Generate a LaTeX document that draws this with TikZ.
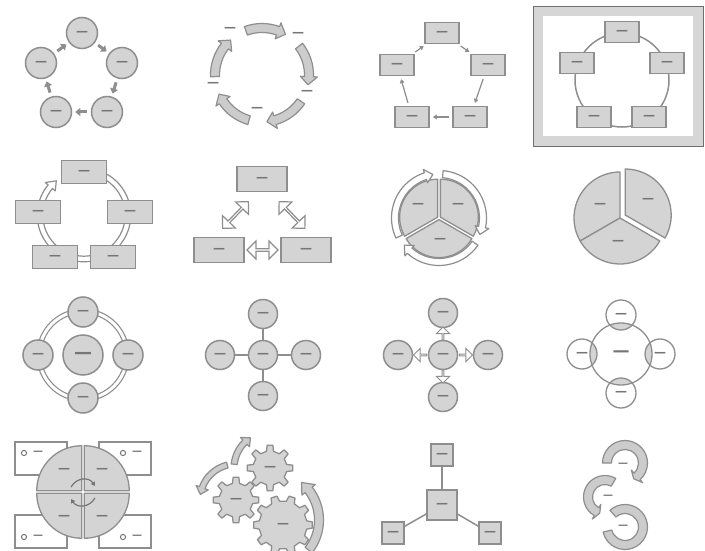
\documentclass[tikz,border=0pt]{standalone}
\usepackage{fontspec}
\newfontfamily\dashfont{DejaVu Sans}
\usetikzlibrary{arrows.meta,shapes.arrows,calc}
\definecolor{IconFill} {RGB}{212,212,212}
\definecolor{IconLine} {RGB}{142,142,142}
\definecolor{IconText} {RGB}{118,118,118}
\definecolor{ArrowFill}{RGB}{204,204,204}
\definecolor{FrameBand}{RGB}{214,214,214}
\definecolor{FrameLine}{RGB}{110,110,110}
% curved block arrow: centre, radius, half width, head half width, from, to, tip angle, style
\newcommand\blockarc[8]{%
  \begin{scope}[shift={#1}]
  \draw[#8] ({#5}:{#2+#3}) arc[start angle={#5}, end angle={#6}, radius={#2+#3}]
    -- ({#6}:{#2+#4}) -- ({#6+(#7)}:{#2}) -- ({#6}:{#2-#4}) -- ({#6}:{#2-#3})
    arc[start angle={#6}, end angle={#5}, radius={#2-#3}] -- cycle;
  \end{scope}}

\begin{document}
\begin{tikzpicture}[x=1pt,y=-1pt,
  ph/.style={font=\dashfont\bfseries\fontsize{12}{12}\selectfont, text=IconText, inner sep=0pt},
  bub/.style={circle, draw=IconLine, fill=IconFill, line width=1.5pt, minimum size=31pt, inner sep=0pt, ph},
  box/.style={rectangle, draw=IconLine, fill=IconFill, line width=1.5pt, minimum width=34pt, minimum height=21pt, inner sep=0pt, ph},
  venn/.style={circle, draw=IconLine, line width=1.3pt, inner sep=0pt, ph},
  card/.style={rectangle, draw=IconLine, fill=white, line width=1.3pt, inner sep=0pt},
  sector/.style={draw=IconLine, fill=IconFill, line width=1.3pt, line join=round},
  cyc/.style={draw=IconLine, fill=ArrowFill, line width=1.2pt, line join=round},
  hollow/.style={draw=IconLine, fill=white, line width=1.2pt, line join=round},
  link/.style={IconLine, line width=1.5pt},
  stub/.style={IconLine, line width=3pt, -{Triangle[length=5pt,width=8pt]}, shorten <=4pt, shorten >=3pt},
  pointer/.style={IconLine, line width=1.2pt, -{Triangle[length=4pt,width=4.5pt]}, shorten <=3pt, shorten >=3pt},
  twin/.style={double arrow, draw=IconLine, fill=white, line width=1.2pt, minimum width=18pt, double arrow head extend=4pt, inner sep=0pt},
  spike/.style={single arrow, draw=IconLine, fill=white, line width=1pt, minimum width=13pt, minimum height=13pt, single arrow head extend=3pt, inner sep=0pt},
  swirl/.style={draw=IconText, line width=1.2pt, -{Triangle[length=4pt,width=4.5pt]}},
]
\fill[white] (0,0) rectangle (705,551);
\useasboundingbox (0,0) rectangle (705,551);

% row 1 : basic cycle
\node[bub] (c1a) at (82,33) {—};
\node[bub] (c1b) at (122,63) {—};
\node[bub] (c1c) at (107,112) {—};
\node[bub] (c1d) at (56,112) {—};
\node[bub] (c1e) at (41,63) {—};
\foreach \u/\v in {c1a/c1b,c1b/c1c,c1c/c1d,c1d/c1e,c1e/c1a}
  \draw[stub] (\u) -- (\v);

% text cycle
\foreach \a in {250,322,34,106,178}
  \blockarc{(262,75)}{47}{4.5}{8.5}{\a}{\a+40}{10}{cyc};
\node[ph] (d2a) at (230,29) {—};
\node[ph] (d2b) at (298,34) {—};
\node[ph] (d2c) at (307,92) {—};
\node[ph] (d2d) at (257,109) {—};
\node[ph] (d2e) at (213,84) {—};

% block cycle
\node[box] (r3a) at (442,33) {—};
\node[box] (r3b) at (488,65) {—};
\node[box] (r3c) at (470,117) {—};
\node[box] (r3d) at (412,117) {—};
\node[box] (r3e) at (397,65) {—};
\foreach \u/\v in {r3a/r3b,r3b/r3c,r3c/r3d,r3d/r3e,r3e/r3a}
  \draw[pointer] (\u) -- (\v);

% continuous block cycle (selected)
\draw[FrameLine, fill=FrameBand, line width=0.8pt] (533,6) rectangle (703,146);
\fill[white] (543,16) rectangle (693,136);
\draw[IconLine, line width=1.5pt] (622,80) circle[radius=47];
\node[box] (r4a) at (622,32) {—};
\node[box] (r4b) at (667,63) {—};
\node[box] (r4c) at (649,117) {—};
\node[box] (r4d) at (594,117) {—};
\node[box] (r4e) at (577,63) {—};

% row 2 : continuous ring with boxes
\blockarc{(84,215)}{44}{2.8}{6.5}{275}{580}{11}{hollow};
\node[box, minimum width=45pt, minimum height=23pt] (r5a) at (84,172) {—};
\node[box, minimum width=45pt, minimum height=23pt] (r5b) at (130,212) {—};
\node[box, minimum width=45pt, minimum height=23pt] (r5c) at (113,257) {—};
\node[box, minimum width=45pt, minimum height=23pt] (r5d) at (55,257) {—};
\node[box, minimum width=45pt, minimum height=23pt] (r5e) at (38,212) {—};

% triangle of boxes
\node[box, minimum width=50pt, minimum height=25pt] (r6a) at (262,179) {—};
\node[box, minimum width=50pt, minimum height=25pt] (r6b) at (219,250) {—};
\node[box, minimum width=50pt, minimum height=25pt] (r6c) at (306,250) {—};
\node[twin, rotate=46, minimum height=37pt] (a6a) at (235.5,215) {};
\node[twin, rotate=-46, minimum height=37pt] (a6b) at (292,215) {};
\node[twin, minimum height=31pt] (a6c) at ($(r6b.east)!0.5!(r6c.west)$) {};

% segmented cycle
\begin{scope}[shift={(439,218)}]
\foreach \a/\b/\m in {150/270/210,270/390/330,30/150/90}
  \draw[sector, shift={(\m:1.6)}] (0,0) -- (\a:38) arc[start angle=\a, end angle=\b, radius=38] -- cycle;
\end{scope}
\blockarc{(439,218)}{44}{3.5}{7}{155}{252}{10}{hollow};
\blockarc{(439,218)}{44}{3.5}{7}{275}{372}{10}{hollow};
\blockarc{(439,218)}{44}{3.5}{7}{35}{132}{10}{hollow};
\node[ph] (d7a) at (418,205) {—};
\node[ph] (d7b) at (458,205) {—};
\node[ph] (d7c) at (440,240) {—};

% pie
\begin{scope}[shift={(620,218)}]
\foreach \a/\b/\m in {150/270/0,30/150/0,270/390/6}
  \draw[sector, shift={(330:\m)}] (0,0) -- (\a:46) arc[start angle=\a, end angle=\b, radius=46] -- cycle;
\end{scope}
\node[ph] (d8a) at (600,205) {—};
\node[ph] (d8b) at (648,200) {—};
\node[ph] (d8c) at (618,242) {—};

% row 3 : radial cycle
\draw[IconLine, line width=1.2pt, double=white, double distance=3pt] (83,355) circle[radius=44];
\node[bub, minimum size=40pt, font=\dashfont\bfseries\fontsize{18}{18}\selectfont] (c9o) at (83,355) {—};
\node[bub, minimum size=30pt] (c9a) at (83,312) {—};
\node[bub, minimum size=30pt] (c9b) at (128,355) {—};
\node[bub, minimum size=30pt] (c9c) at (83,398) {—};
\node[bub, minimum size=30pt] (c9d) at (38,355) {—};

% basic radial
\node[bub, minimum size=29pt] (c10o) at (263,355) {—};
\node[bub, minimum size=29pt] (c10a) at (263,314) {—};
\node[bub, minimum size=29pt] (c10b) at (306,355) {—};
\node[bub, minimum size=29pt] (c10c) at (263,396) {—};
\node[bub, minimum size=29pt] (c10d) at (220,355) {—};
\foreach \v in {c10a,c10b,c10c,c10d}
  \draw[link] (c10o) -- (\v);

% diverging radial
\node[bub, minimum size=29pt] (c11o) at (443,355) {—};
\node[bub, minimum size=29pt] (c11a) at (443,313) {—};
\node[bub, minimum size=29pt] (c11b) at (488,355) {—};
\node[bub, minimum size=29pt] (c11c) at (443,397) {—};
\node[bub, minimum size=29pt] (c11d) at (398,355) {—};
\foreach \v/\r in {c11a/90,c11b/0,c11c/-90,c11d/180}
  \node[spike, rotate=\r] at ($(c11o)!0.5!(\v)$) {};

% radial venn
\begin{scope}
\clip (621,354) circle[radius=31];
\foreach \x/\y in {621/315,660/354,621/393,582/354}
  \fill[IconFill] (\x,\y) circle[radius=15];
\end{scope}
\node[venn, minimum size=62pt, font=\dashfont\bfseries\fontsize{17}{17}\selectfont] (c12o) at (621,354) {—};
\node[venn, minimum size=30pt] (c12a) at (621,315) {—};
\node[venn, minimum size=30pt] (c12b) at (660,354) {—};
\node[venn, minimum size=30pt] (c12c) at (621,393) {—};
\node[venn, minimum size=30pt] (c12d) at (582,354) {—};

% row 4 : cycle matrix
\node[card, minimum width=52pt, minimum height=33pt] (p13a) at (41,458.5) {};
\node[card, minimum width=52pt, minimum height=33pt] (p13b) at (125,458.5) {};
\node[card, minimum width=52pt, minimum height=33pt] (p13c) at (41,531.5) {};
\node[card, minimum width=52pt, minimum height=33pt] (p13d) at (125,531.5) {};
\foreach \x/\y in {24/453,123/453,24/537,123/537} {
  \draw[IconText, line width=1pt] (\x,\y) circle[radius=2.6];
  \node[ph, font=\dashfont\bfseries\fontsize{10}{10}\selectfont] at (\x+14,\y) {—};
}
\begin{scope}[shift={(83,492)}]
\foreach \a/\m in {180/225,270/315,0/45,90/135}
  \draw[sector, shift={(\m:1.8)}] (0,0) -- (\a:45) arc[start angle=\a, end angle=\a+90, radius=45] -- cycle;
\end{scope}
\node[ph] (d13a) at (64,470) {—};
\node[ph] (d13b) at (102,470) {—};
\node[ph] (d13c) at (64,517) {—};
\node[ph] (d13d) at (102,517) {—};
\draw[swirl] (71,487) .. controls (77,477) and (89,477) .. (95,486);
\draw[swirl] (95,498) .. controls (89,508) and (77,508) .. (71,499);

% gears
\blockarc{(270,468)}{36}{3}{6.5}{186}{226}{11}{cyc};
\blockarc{(236,500)}{36}{3}{6.5}{256}{200}{-11}{cyc};
\blockarc{(270,520)}{49}{4.5}{8.5}{38}{-38}{-12}{cyc};
\begin{scope}[shift={(270,468)}]
\draw[sector] (-12:17) \foreach \a in {0,45,...,315} { -- ({\a-12}:17) -- ({\a-7}:23) -- ({\a+7}:23) -- ({\a+12}:17) } -- cycle;
\node[ph] (g14a) at (0,0) {—};
\end{scope}
\begin{scope}[shift={(236,500)}]
\draw[sector] (-12:17) \foreach \a in {0,45,...,315} { -- ({\a-12}:17) -- ({\a-7}:23) -- ({\a+7}:23) -- ({\a+12}:17) } -- cycle;
\node[ph] (g14b) at (0,0) {—};
\end{scope}
\begin{scope}[shift={(283,525)}]
\draw[sector] (-10:24) \foreach \a in {0,36,...,324} { -- ({\a-10}:24) -- ({\a-6}:29.5) -- ({\a+6}:29.5) -- ({\a+10}:24) } -- cycle;
\node[ph] (g14c) at (0,0) {—};
\end{scope}

% hierarchy of squares
\node[box, minimum width=30pt, minimum height=30pt] (q15o) at (442,505) {—};
\node[box, minimum width=22pt, minimum height=22pt] (q15a) at (442,455) {—};
\node[box, minimum width=22pt, minimum height=22pt] (q15b) at (393,533) {—};
\node[box, minimum width=22pt, minimum height=22pt] (q15c) at (490,533) {—};
\foreach \v in {q15a,q15b,q15c}
  \draw[link] (q15o) -- (\v);

% chain of circular arrows
\blockarc{(625,527)}{18}{4.5}{4.5}{228}{527}{0}{cyc};
\blockarc{(605,497)}{17}{4.5}{8.5}{300}{120}{-12}{cyc};
\blockarc{(625,463)}{18}{4.5}{8.5}{180}{408}{13}{cyc};
\node[ph, font=\dashfont\bfseries\fontsize{10}{10}\selectfont] (d16a) at (623,465) {—};
\node[ph, font=\dashfont\bfseries\fontsize{10}{10}\selectfont] (d16b) at (608,497) {—};
\node[ph, font=\dashfont\bfseries\fontsize{10}{10}\selectfont] (d16c) at (623,527) {—};
\end{tikzpicture}
\end{document}
